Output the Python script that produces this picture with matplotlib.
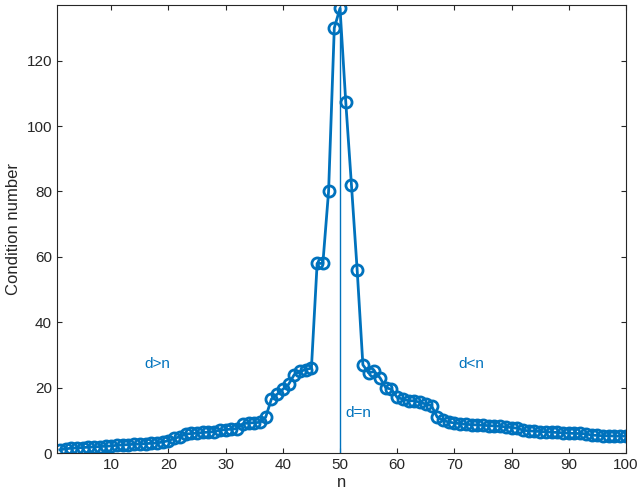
import numpy as np
import matplotlib.pyplot as plt

# condition number vs n
n = np.arange(1, 101)
cond = [1.0, 1.3, 1.5, 1.6, 1.7, 1.8, 1.9, 2.0, 2.1, 2.2,
        2.4, 2.5, 2.6, 2.7, 2.8, 2.9, 3.0, 3.1, 3.4, 3.8,
        4.5, 5.0, 5.8, 6.0, 6.1, 6.3, 6.4, 6.6, 7.0, 7.2,
        7.3, 7.5, 9.0, 9.2, 9.3, 9.4, 11.0, 16.5, 18.0, 19.5,
        21.0, 24.0, 25.0, 25.5, 26.0, 58.0, 58.0, 80.0, 130.0, 136.0,
        107.5, 82.0, 56.0, 27.0, 24.5, 25.0, 23.0, 20.0, 19.5, 17.0,
        16.5, 16.0, 16.0, 15.5, 15.0, 14.5, 11.0, 10.0, 9.5, 9.2,
        9.0, 8.8, 8.7, 8.6, 8.5, 8.4, 8.3, 8.2, 8.0, 7.8,
        7.6, 7.0, 6.8, 6.7, 6.6, 6.5, 6.4, 6.3, 6.2, 6.1,
        6.0, 6.0, 5.9, 5.5, 5.4, 5.3, 5.3, 5.2, 5.2, 5.2]

blue = '#0072BD'
plt.rcParams['font.family'] = 'Liberation Sans'

fig = plt.figure(figsize=(6.4, 5.04), dpi=100)
ax = fig.add_axes([0.089, 0.101, 0.889, 0.889])
ax.plot(n, cond, '-o', color=blue, lw=2, ms=8, mfc='none', mew=2)
ax.axvline(50, color=blue, lw=1)
ax.text(18, 26, 'd>n', color=blue, fontsize=11, ha='center')
ax.text(51, 11, 'd=n', color=blue, fontsize=11)
ax.text(73, 26, 'd<n', color=blue, fontsize=11, ha='center')

ax.set_xlim(0.5, 100)
ax.set_ylim(0, 137)
ax.set_xticks(range(10, 101, 10))
ax.set_yticks(range(0, 121, 20))
ax.tick_params(direction='in', labelsize=11, colors='#262626', top=True, right=True)
for s in ax.spines.values():
    s.set_color('#262626')
ax.set_xlabel('n', fontsize=12, color='#262626', labelpad=2)
ax.set_ylabel('Condition number', fontsize=12, color='#262626')
fig.savefig('out.png')
